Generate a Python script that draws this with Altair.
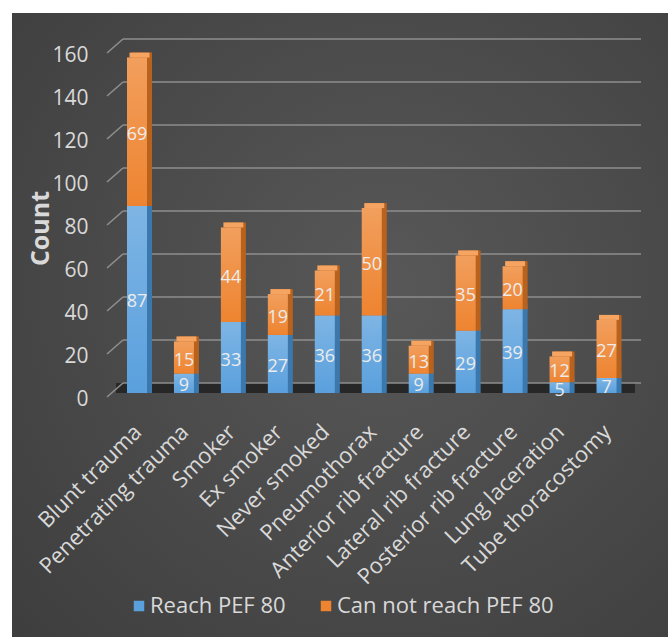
import altair as alt
import pandas as pd

cats = ["Blunt trauma", "Penetrating trauma", "Smoker", "Ex smoker", "Never smoked",
        "Pneumothorax", "Anterior rib fracture", "Lateral rib fracture",
        "Posterior rib fracture", "Lung laceration", "Tube thoracostomy"]
reach = [87, 9, 33, 27, 36, 36, 9, 29, 39, 5, 7]
cannot = [69, 15, 44, 19, 21, 50, 13, 35, 20, 12, 27]
series = ["Reach PEF 80", "Can not reach PEF 80"]
y_ticks = [0, 20, 40, 60, 80, 100, 120, 140, 160]

front_colors = ["#5aa0dd", "#ee8430"]
side_colors = ["#3b78ad", "#b9621d"]
top_color = "#f5a462"

rows = []
for c, r, n in zip(cats, reach, cannot):
    rows.append(dict(cat=c, series=series[0], value=r, y0=0, y1=r, mid=r / 2, side=side_colors[0]))
    rows.append(dict(cat=c, series=series[1], value=n, y0=r, y1=r + n, mid=r + n / 2, side=side_colors[1]))
df = pd.DataFrame(rows)
top_df = df[df.series == series[1]]
grid_df = pd.DataFrame({"v": y_ticks})
floor_df = pd.DataFrame({"v": [0]})

W, H = 533, 344
font = "Open Sans"
txt = "#d9d9d9"

x_axis = alt.Axis(labelAngle=-45, labelFont=font, labelFontSize=22, labelColor=txt,
                  labelPadding=28, labelOffset=-6, ticks=False, domain=False,
                  labelLimit=400, zindex=1)
x_scale = alt.Scale(paddingInner=0.574, paddingOuter=0.463, align=0.437)


def xdef():
    return alt.X("cat:N", sort=cats, title=None, scale=x_scale, axis=x_axis)


y_axis = alt.Axis(values=y_ticks, grid=False, ticks=False, tickSize=0, domain=False,
                  labelFont=font, labelFontSize=21, labelColor=txt, labelPadding=20,
                  labelOffset=6, titleFont=font, titleFontSize=25, titleFontWeight="bold",
                  titleColor=txt, titleX=-68, titleY=179, titleAngle=270,
                  titleAlign="center", titleBaseline="middle", zindex=1)
y_scale = alt.Scale(domain=[0, 160], nice=False, zero=True)


def ydef(field):
    return alt.Y(field, type="quantitative", title="Count", scale=y_scale, axis=y_axis)


bg_fill = {"gradient": "radial", "x1": 0.45, "y1": 0.42, "r1": 0,
           "x2": 0.45, "y2": 0.42, "r2": 0.75,
           "stops": [{"offset": 0, "color": "#585858"},
                     {"offset": 1, "color": "#383838"}]}

bg = alt.Chart(alt.Data(values=[{}])).mark_rect(fill=bg_fill).encode(
    x=alt.value(-96), x2=alt.value(W + 200), y=alt.value(-36), y2=alt.value(H + 300))

floor = alt.Chart(floor_df).mark_rule(strokeWidth=10, yOffset=-5, color="#272727").encode(
    y=ydef("v"), x=alt.value(8), x2=alt.value(527))

grid_h = alt.Chart(grid_df).mark_rule(strokeWidth=1.6, yOffset=-10, color="#8e8e8e").encode(
    y=ydef("v"), x=alt.value(15), x2=alt.value(W))

grid_d = alt.Chart(grid_df).mark_rule(strokeWidth=1.6, yOffset=4, y2Offset=-10, color="#8e8e8e").encode(
    y=ydef("v"), y2="v:Q", x=alt.value(-1), x2=alt.value(15))

side = alt.Chart(df).mark_bar(xOffset=5, yOffset=-5).encode(
    x=xdef(), y=ydef("y1"), y2="y0:Q", fill=alt.Fill("side:N", scale=None))

top = alt.Chart(top_df).mark_tick(thickness=5, size=20, xOffset=2.5, yOffset=-2.5,
                                  color=top_color, opacity=1).encode(
    x=xdef(), y=ydef("y1"))

front = alt.Chart(df).mark_bar().encode(
    x=xdef(), y=ydef("y1"), y2="y0:Q",
    color=alt.Color("series:N", sort=series,
                    scale=alt.Scale(domain=series, range=front_colors),
                    legend=alt.Legend(orient="none", legendX=20, legendY=546,
                                      direction="horizontal", title=None,
                                      symbolType="square", symbolSize=110,
                                      symbolStrokeWidth=0, labelFont=font,
                                      labelFontSize=22, labelColor=txt,
                                      columnPadding=29, labelOffset=0,
                                      labelLimit=400)))

shine_fill = {"gradient": "linear", "x1": 0, "y1": 0, "x2": 0, "y2": 1,
              "stops": [{"offset": 0, "color": "rgba(255,255,255,0.22)"},
                        {"offset": 1, "color": "rgba(255,255,255,0)"}]}
shine = alt.Chart(df).mark_bar(fill=shine_fill).encode(
    x=xdef(), y=ydef("y1"), y2="y0:Q")

labels = alt.Chart(df).mark_text(font=font, fontSize=18, color="#ececec",
                                 baseline="middle", dy=3).encode(
    x=xdef(), y=ydef("mid"), text="value:Q")

chart = alt.layer(bg, floor, grid_h, grid_d, side, top, front, shine, labels).properties(
    width=W, height=H,
    autosize=alt.AutoSizeParams(type="none"),
    padding={"left": 108, "top": 49, "right": 27, "bottom": 244},
    background="white",
).configure_view(stroke=None)

chart.save("out.html", embed_options={"renderer": "svg", "actions": False})
